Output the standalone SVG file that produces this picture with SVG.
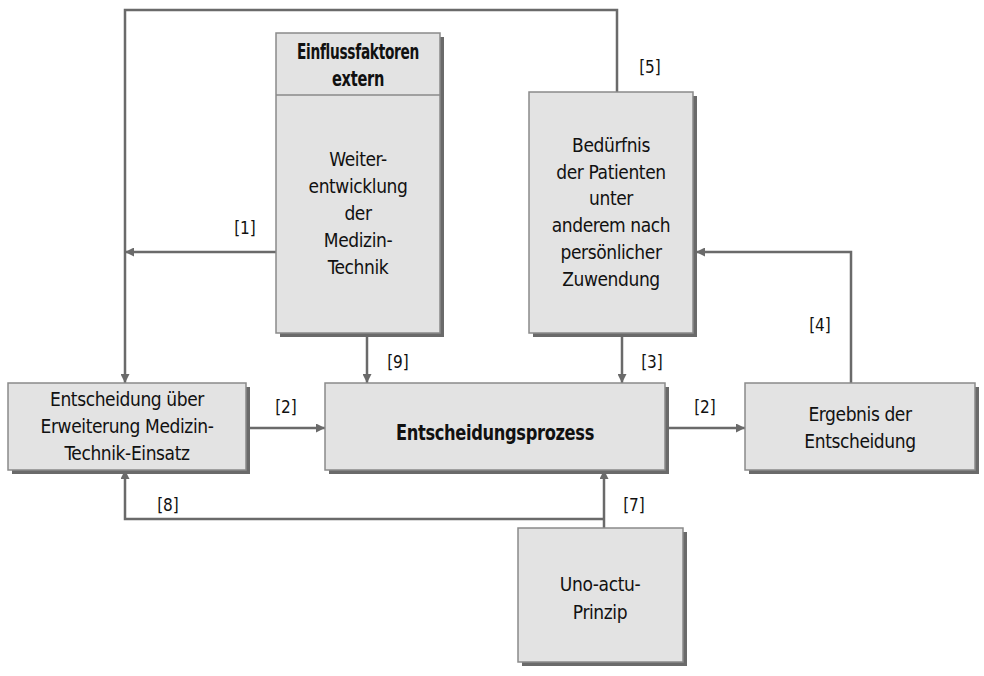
<svg xmlns="http://www.w3.org/2000/svg" width="984" height="676" viewBox="0 0 984 676">
  <style>
    .box { fill: #e3e3e3; stroke: #8a8a8a; stroke-width: 1.5; }
    .shadow { fill: #6a6a6a; }
    .t { font-family: "Liberation Sans Narrow", "DejaVu Sans Condensed", "Liberation Sans", sans-serif; font-size: 19px; letter-spacing: -0.4px; fill: #111111; text-anchor: middle; }
    .b { font-weight: bold; }
    .hd { font-size: 21px; }
    .lbl { font-family: "Liberation Sans Narrow", "DejaVu Sans Condensed", "Liberation Sans", sans-serif; font-size: 17px; fill: #111111; text-anchor: middle; }
    .c { fill: none; stroke: #6a6a6a; stroke-width: 2.5; }
  </style>
  <defs>
    <marker id="ah" viewBox="0 0 10 10" refX="10" refY="5" markerWidth="4" markerHeight="3.6" orient="auto" markerUnits="strokeWidth">
      <path d="M0,0 L10,5 L0,10 z" fill="#6a6a6a"/>
    </marker>
  </defs>

  <rect width="984" height="676" fill="#ffffff"/>

  <!-- connectors -->
  <g id="connectors">
    <path class="c" d="M617,92 V10 H125 V383" marker-end="url(#ah)"/>
    <path class="c" d="M276,252 H125" marker-end="url(#ah)"/>
    <path class="c" d="M367,336 V383" marker-end="url(#ah)"/>
    <path class="c" d="M622,336 V383" marker-end="url(#ah)"/>
    <path class="c" d="M246,428 H325" marker-end="url(#ah)"/>
    <path class="c" d="M665,428 H745" marker-end="url(#ah)"/>
    <path class="c" d="M851,383 V252 H696" marker-end="url(#ah)"/>
    <path class="c" d="M604,528 V470" marker-end="url(#ah)"/>
    <path class="c" d="M604,519 H125 V470" marker-end="url(#ah)"/>
    <text class="lbl" x="245" y="234">[1]</text>
    <text class="lbl" x="650" y="73">[5]</text>
    <text class="lbl" x="398" y="368">[9]</text>
    <text class="lbl" x="652" y="368">[3]</text>
    <text class="lbl" x="286" y="413">[2]</text>
    <text class="lbl" x="705" y="413">[2]</text>
    <text class="lbl" x="820" y="331">[4]</text>
    <text class="lbl" x="634" y="511">[7]</text>
    <text class="lbl" x="168" y="511">[8]</text>
  </g>

  <!-- external influence box -->
  <g id="einflussfaktoren">
    <rect class="shadow" x="280" y="37" width="164" height="300"/>
    <rect class="box" x="276" y="33" width="164" height="300"/>
    <line x1="276" y1="95" x2="440" y2="95" stroke="#8a8a8a" stroke-width="1.5"/>
    <text class="t b hd" x="358" y="59" textLength="122" lengthAdjust="spacingAndGlyphs">Einflussfaktoren</text>
    <text class="t b hd" x="358" y="86" textLength="52" lengthAdjust="spacingAndGlyphs">extern</text>
    <text class="t" x="358" y="166">Weiter-</text>
    <text class="t" x="358" y="193">entwicklung</text>
    <text class="t" x="358" y="220">der</text>
    <text class="t" x="358" y="247">Medizin-</text>
    <text class="t" x="358" y="274">Technik</text>
  </g>

  <g id="beduerfnis">
    <rect class="shadow" x="533" y="96" width="164" height="241"/>
    <rect class="box" x="529" y="92" width="164" height="241"/>
    <text class="t" x="611" y="152">Bedürfnis</text>
    <text class="t" x="611" y="179">der Patienten</text>
    <text class="t" x="611" y="205">unter</text>
    <text class="t" x="611" y="232">anderem nach</text>
    <text class="t" x="611" y="259">persönlicher</text>
    <text class="t" x="611" y="286">Zuwendung</text>
  </g>

  <g id="entscheidung-ueber">
    <rect class="shadow" x="12" y="387" width="238" height="87"/>
    <rect class="box" x="8" y="383" width="238" height="87"/>
    <text class="t" x="127" y="406">Entscheidung über</text>
    <text class="t" x="127" y="433">Erweiterung Medizin-</text>
    <text class="t" x="127" y="460">Technik-Einsatz</text>
  </g>

  <g id="entscheidungsprozess">
    <rect class="shadow" x="329" y="387" width="340" height="87"/>
    <rect class="box" x="325" y="383" width="340" height="87"/>
    <text class="t b" x="495" y="440" style="font-size:21px" textLength="198" lengthAdjust="spacingAndGlyphs">Entscheidungsprozess</text>
  </g>

  <g id="ergebnis">
    <rect class="shadow" x="749" y="387" width="230" height="87"/>
    <rect class="box" x="745" y="383" width="230" height="87"/>
    <text class="t" x="860" y="421">Ergebnis der</text>
    <text class="t" x="860" y="448">Entscheidung</text>
  </g>

  <g id="uno-actu">
    <rect class="shadow" x="522" y="532" width="165" height="134"/>
    <rect class="box" x="518" y="528" width="165" height="134"/>
    <text class="t" x="600" y="591">Uno-actu-</text>
    <text class="t" x="600" y="619">Prinzip</text>
  </g>
</svg>
